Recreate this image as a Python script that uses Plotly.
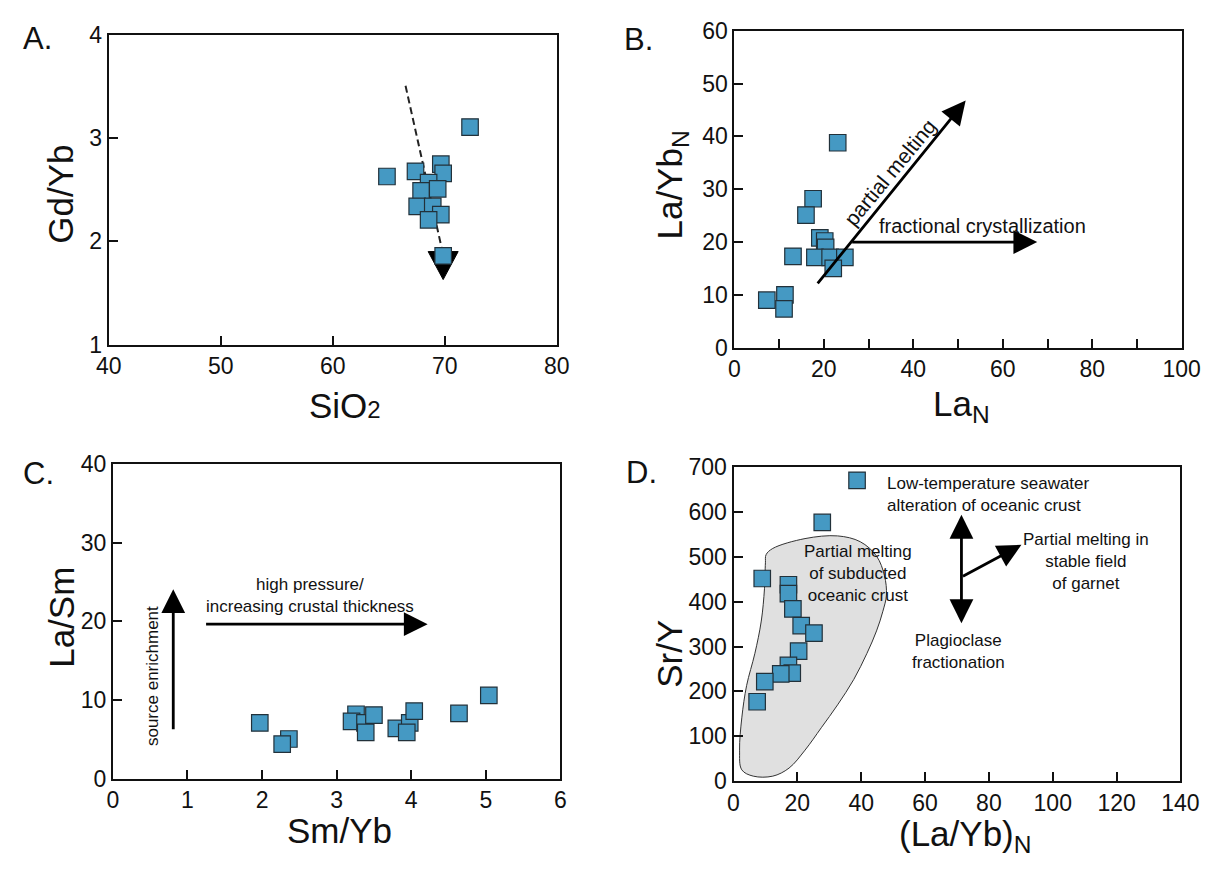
import plotly.graph_objects as go

W, H = 1227, 871
FONT = "Liberation Sans, Arial, Helvetica, sans-serif"
INK = "#111111"
FILL = "#4599C3"
EDGE = "#22313a"

# ---------------- Panel A: Gd/Yb vs SiO2 ----------------
a_sio2 = [72.26, 64.84, 67.39, 69.65, 69.86, 68.56, 67.89, 69.37, 67.54, 68.93, 69.65, 68.56, 69.86]
a_gdyb = [3.11, 2.63, 2.68, 2.75, 2.66, 2.57, 2.49, 2.51, 2.34, 2.34, 2.26, 2.21, 1.86]
a_trend_x = [66.5, 69.8]
a_trend_y = [3.51, 1.90]
a_tip_x, a_tip_y = 69.86, 1.63

# ---------------- Panel B: La/Yb_N vs La_N ----------------
b_lan = [23.1, 17.6, 16.0, 19.1, 20.2, 20.4, 13.1, 18.0, 21.4, 24.7, 22.1, 7.25, 11.3, 11.1]
b_layb = [38.8, 28.2, 25.1, 20.8, 20.2, 19.0, 17.3, 17.1, 17.1, 17.1, 15.0, 9.0, 10.0, 7.35]
b_pm_start = (18.35, 11.9)
b_pm_tip = (51.7, 46.8)
b_fc_start = (26.0, 20.0)
b_fc_tip = (67.7, 20.0)

# ---------------- Panel C: La/Sm vs Sm/Yb ----------------
c_smyb = [1.97, 2.36, 2.27, 3.26, 3.20, 3.38, 3.39, 3.50, 3.80, 3.98, 3.94, 4.04, 4.64, 5.04]
c_lasm = [7.1, 5.05, 4.4, 8.2, 7.3, 7.1, 5.9, 8.1, 6.4, 7.1, 5.9, 8.6, 8.3, 10.6]
c_src_start = (0.81, 6.1)
c_src_tip = (0.81, 24.1)
c_hp_start = (1.23, 19.65)
c_hp_tip = (4.22, 19.65)

# ---------------- Panel D: Sr/Y vs (La/Yb)N ----------------
d_layb = [38.7, 27.8, 9.0, 17.2, 17.2, 18.6, 21.2, 25.2, 20.4, 17.2, 18.4, 14.8, 9.8, 7.4]
d_sry = [671, 577, 452, 438, 418, 384, 347, 330, 290, 258, 241, 239, 222, 177]
d_field_x = [10.2, 12.3, 22.4, 32.6, 39.7, 44.8, 47.3, 47.9, 46.8, 44.8, 41.8, 37.7, 32.6,
             27.5, 22.4, 17.4, 12.3, 6.2, 2.6, 1.9, 2.6, 4.1, 6.7, 8.7, 9.7, 10.0]
d_field_y = [505, 519, 541, 547, 534, 502, 458, 415, 379, 335, 285, 227, 170,
             119, 69, 29, 11, 11, 25, 69, 141, 213, 285, 357, 429, 487]
d_vert_x = 71.4
d_vert_top = 594
d_vert_bot = 349
d_gar_start = (71.4, 455)
d_gar_tip = (90.2, 527)


def px(x, y):
    return x / W, 1 - y / H


fig = go.Figure()

marker = dict(symbol="square", size=16.5, color=FILL, line=dict(color=EDGE, width=1.2))

# A
fig.add_trace(go.Scatter(x=a_trend_x, y=a_trend_y, mode="lines",
                         line=dict(color="#222222", width=2, dash="7px,4px"),
                         xaxis="x", yaxis="y", hoverinfo="skip"))
fig.add_trace(go.Scatter(x=a_sio2, y=a_gdyb, mode="markers", marker=marker, xaxis="x", yaxis="y"))
# B
fig.add_trace(go.Scatter(x=b_lan, y=b_layb, mode="markers", marker=marker, xaxis="x2", yaxis="y2"))
# C
fig.add_trace(go.Scatter(x=c_smyb, y=c_lasm, mode="markers", marker=marker, xaxis="x3", yaxis="y3"))
# D
fig.add_trace(go.Scatter(x=d_field_x + [d_field_x[0]], y=d_field_y + [d_field_y[0]], mode="lines",
                         fill="toself", fillcolor="#E0E0E0",
                         line=dict(color="#333333", width=1, shape="spline", smoothing=1.0),
                         xaxis="x4", yaxis="y4", hoverinfo="skip"))
fig.add_trace(go.Scatter(x=d_layb, y=d_sry, mode="markers", marker=marker, xaxis="x4", yaxis="y4"))


def axis(domain, rng, dtick, anchor, minor=None):
    d = dict(domain=domain, range=rng, dtick=dtick, tick0=rng[0], anchor=anchor,
             showline=True, mirror=True, linecolor=INK, linewidth=2,
             ticks="inside", ticklen=9, tickwidth=2, tickcolor=INK,
             showgrid=False, zeroline=False,
             tickfont=dict(family=FONT, size=23, color=INK), fixedrange=True)
    if minor:
        d["minor"] = dict(dtick=minor, ticks="inside", ticklen=9, tickwidth=2,
                          tickcolor=INK, showgrid=False)
    return d


# domains (pixels -> paper)
A_x = [98.3 / W, 558.3 / W]; A_y = [1 - 341.7 / H, 1 - 23 / H]
B_x = [740.7 / W, 1200 / W]; B_y = [1 - 345 / H, 1 - 18.3 / H]
C_x = [102.5 / W, 562.1 / W]; C_y = [1 - 789.3 / H, 1 - 465 / H]
D_x = [739.8 / W, 1198.7 / W]; D_y = [1 - 791.7 / H, 1 - 468.3 / H]

fig.update_layout(
    width=W, height=H, margin=dict(l=0, r=0, t=0, b=0),
    paper_bgcolor="white", plot_bgcolor="white", showlegend=False,
    font=dict(family=FONT, color=INK),
    xaxis=axis(A_x, [40, 80], 10, "y"),
    yaxis=axis(A_y, [1, 4], 1, "x"),
    xaxis2=axis(B_x, [0, 100], 20, "y2", minor=10),
    yaxis2=axis(B_y, [0, 60], 10, "x2"),
    xaxis3=axis(C_x, [0, 6], 1, "y3"),
    yaxis3=axis(C_y, [0, 40], 10, "x3"),
    xaxis4=axis(D_x, [0, 140], 20, "y4"),
    yaxis4=axis(D_y, [0, 700], 100, "x4"),
)

# Panel A arrowhead (below markers)
fig.add_shape(type="path", xref="x", yref="y", xsizemode="pixel", ysizemode="pixel",
              xanchor=a_tip_x, yanchor=a_tip_y, path="M0,0 L-15,28 L15,28 Z",
              fillcolor="#000000", line=dict(color="#000000", width=1), layer="below")

ann = []


def arrow(xr, yr, start, tip, both=False):
    d = dict(x=tip[0], y=tip[1], ax=start[0], ay=start[1], xref=xr, yref=yr, axref=xr, ayref=yr,
             text="", showarrow=True, arrowhead=2, arrowsize=1.7, arrowwidth=2.8, arrowcolor="#000000")
    if both:
        d.update(arrowside="end+start", startarrowhead=2, startarrowsize=1.7)
    ann.append(d)


def label(text, x, y, size, xr="paper", yr="paper", angle=0, xanchor="center", yanchor="middle", align="center"):
    ann.append(dict(text=text, x=x, y=y, xref=xr, yref=yr, showarrow=False, textangle=angle,
                    xanchor=xanchor, yanchor=yanchor, align=align,
                    font=dict(family=FONT, size=size, color=INK)))


# panel letters
for t, (lx, ly) in zip(["A.", "B.", "C.", "D."], [(8, 26), (625, 27.5), (8, 475), (627, 474)]):
    x, y = px(lx, ly)
    label(t, x, y, 31, xanchor="left")

# axis titles
TS = 35
label("Gd/Yb", *px(48.8, 186.7), TS, angle=-90)
label('SiO<span style="font-size:24px">2</span>', *px(340.4, 405), TS)
label("La/Yb<sub>N</sub>", *px(677, 177.5), TS, angle=-90)
label("La<sub>N</sub>", *px(974, 405), TS)
label("La/Sm", *px(49.7, 623), TS, angle=-90)
label("Sm/Yb", *px(335.6, 843), TS)
label("Sr/Y", *px(674, 660), TS, angle=-90)
label("(La/Yb)<sub>N</sub>", *px(977.7, 848), TS)

# Panel B arrows & text
arrow("x2", "y2", b_pm_start, b_pm_tip)
arrow("x2", "y2", b_fc_start, b_fc_tip)
label("partial melting", 34.8, 33.1, 21, xr="x2", yr="y2", angle=-50.5)
label("fractional crystallization", 55.5, 23.0, 20, xr="x2", yr="y2")

# Panel C arrows & text
arrow("x3", "y3", c_src_start, c_src_tip)
arrow("x3", "y3", c_hp_start, c_hp_tip)
label("source enrichment", 0.53, 13.1, 17, xr="x3", yr="y3", angle=-90)
label("high pressure/<br>increasing crustal thickness", 2.64, 23.25, 17, xr="x3", yr="y3")

# Panel D arrows & text
arrow("x4", "y4", (d_vert_x, d_vert_bot), (d_vert_x, d_vert_top), both=True)
arrow("x4", "y4", d_gar_start, d_gar_tip)
label("Low-temperature seawater<br>alteration of oceanic crust", 47.4, 640, 17,
      xr="x4", yr="y4", xanchor="left", align="left")
label("Partial melting in<br>stable field<br>of garnet", 110.4, 489, 17, xr="x4", yr="y4")
label("Plagioclase<br>fractionation", 70.4, 289, 17, xr="x4", yr="y4")
label("Partial melting<br>of subducted<br>oceanic crust", 39.0, 462, 17, xr="x4", yr="y4")

fig.update_layout(annotations=ann)

fig.write_html("out.html")
